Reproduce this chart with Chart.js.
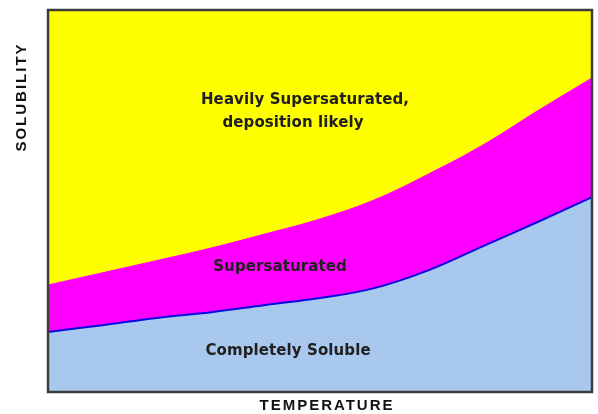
<!DOCTYPE html>
<html>
<head>
<meta charset="utf-8">
<script src="https://cdn.jsdelivr.net/npm/chart.js@4.4.0/dist/chart.umd.min.js"></script>
<style>
  html, body { margin: 0; padding: 0; background: #fff; }
  canvas { display: block; }
</style>
</head>
<body>
<canvas id="myChart" width="598" height="414"></canvas>
<script>
  // temperature steps (no real units on the original sketch)
  var temperature = [0, 1, 2, 3, 4, 5, 6, 7, 8, 9, 10];
  // solubility curve (upper edge of the blue area)
  var solubility = [15.7, 17.5, 19.4, 20.9, 22.8, 24.6, 27.2, 31.9, 38.2, 44.5, 51.0];
  // upper edge of the supersaturated band
  var supersaturation = [28.0, 31.2, 34.4, 37.7, 41.4, 45.3, 50.3, 57.1, 64.7, 73.6, 82.2];

  var regionLabels = [
    { text: 'Heavily Supersaturated,', x: 305, y: 100 },
    { text: 'deposition likely', x: 293, y: 123 },
    { text: 'Supersaturated', x: 280, y: 267 },
    { text: 'Completely Soluble', x: 288, y: 351 }
  ];

  var xTitle = 'TEMPERATURE';
  var yTitle = 'SOLUBILITY';

  function toPoints(vals) {
    return vals.map(function (v, i) { return { x: temperature[i], y: v }; });
  }

  function spacedText(c, t, x, y, sp) {
    c.letterSpacing = sp + 'px';
    var w = c.measureText(t).width - sp;
    c.textAlign = 'left';
    c.fillText(t, x - w / 2, y);
  }

  // yellow background, frame, region labels and axis titles
  var decor = {
    id: 'decor',
    beforeDatasetsDraw: function (chart) {
      var a = chart.chartArea, c = chart.ctx;
      c.save();
      c.fillStyle = '#ffff00';
      c.fillRect(a.left, a.top, a.right - a.left, a.bottom - a.top);
      c.restore();
    },
    afterDraw: function (chart) {
      var a = chart.chartArea, c = chart.ctx;
      c.save();
      c.strokeStyle = '#3c3c3c';
      c.lineWidth = 2.5;
      c.strokeRect(a.left, a.top, a.right - a.left, a.bottom - a.top);

      c.fillStyle = '#202020';
      c.textBaseline = 'middle';
      c.font = 'bold 15px "DejaVu Sans", sans-serif';
      regionLabels.forEach(function (l) {
        spacedText(c, l.text, l.x, l.y, 0.1);
      });

      c.font = 'bold 15px "Liberation Sans", Arial, sans-serif';
      c.fillStyle = '#111';
      spacedText(c, xTitle, 326, 406, 2);
      c.translate(22, 98);
      c.rotate(-Math.PI / 2);
      spacedText(c, yTitle, 0, 0, 2);
      c.restore();
    }
  };

  var ctx = document.getElementById('myChart');
  new Chart(ctx, {
    type: 'line',
    data: {
      datasets: [
        {
          data: toPoints(solubility),
          borderColor: '#0a0ae0',
          borderWidth: 2,
          backgroundColor: '#a8c8ee',
          fill: 'origin',
          pointRadius: 0,
          tension: 0.4
        },
        {
          data: toPoints(supersaturation),
          borderColor: '#ff00ff',
          borderWidth: 1,
          backgroundColor: '#ff00ff',
          fill: '-1',
          pointRadius: 0,
          tension: 0.4
        }
      ]
    },
    options: {
      responsive: false,
      animation: false,
      layout: { padding: { left: 48, right: 6, top: 10, bottom: 22 } },
      scales: {
        x: { type: 'linear', min: 0, max: 10, display: false },
        y: { min: 0, max: 100, display: false }
      },
      plugins: {
        legend: { display: false },
        tooltip: { enabled: false }
      }
    },
    plugins: [decor]
  });
</script>
</body>
</html>
